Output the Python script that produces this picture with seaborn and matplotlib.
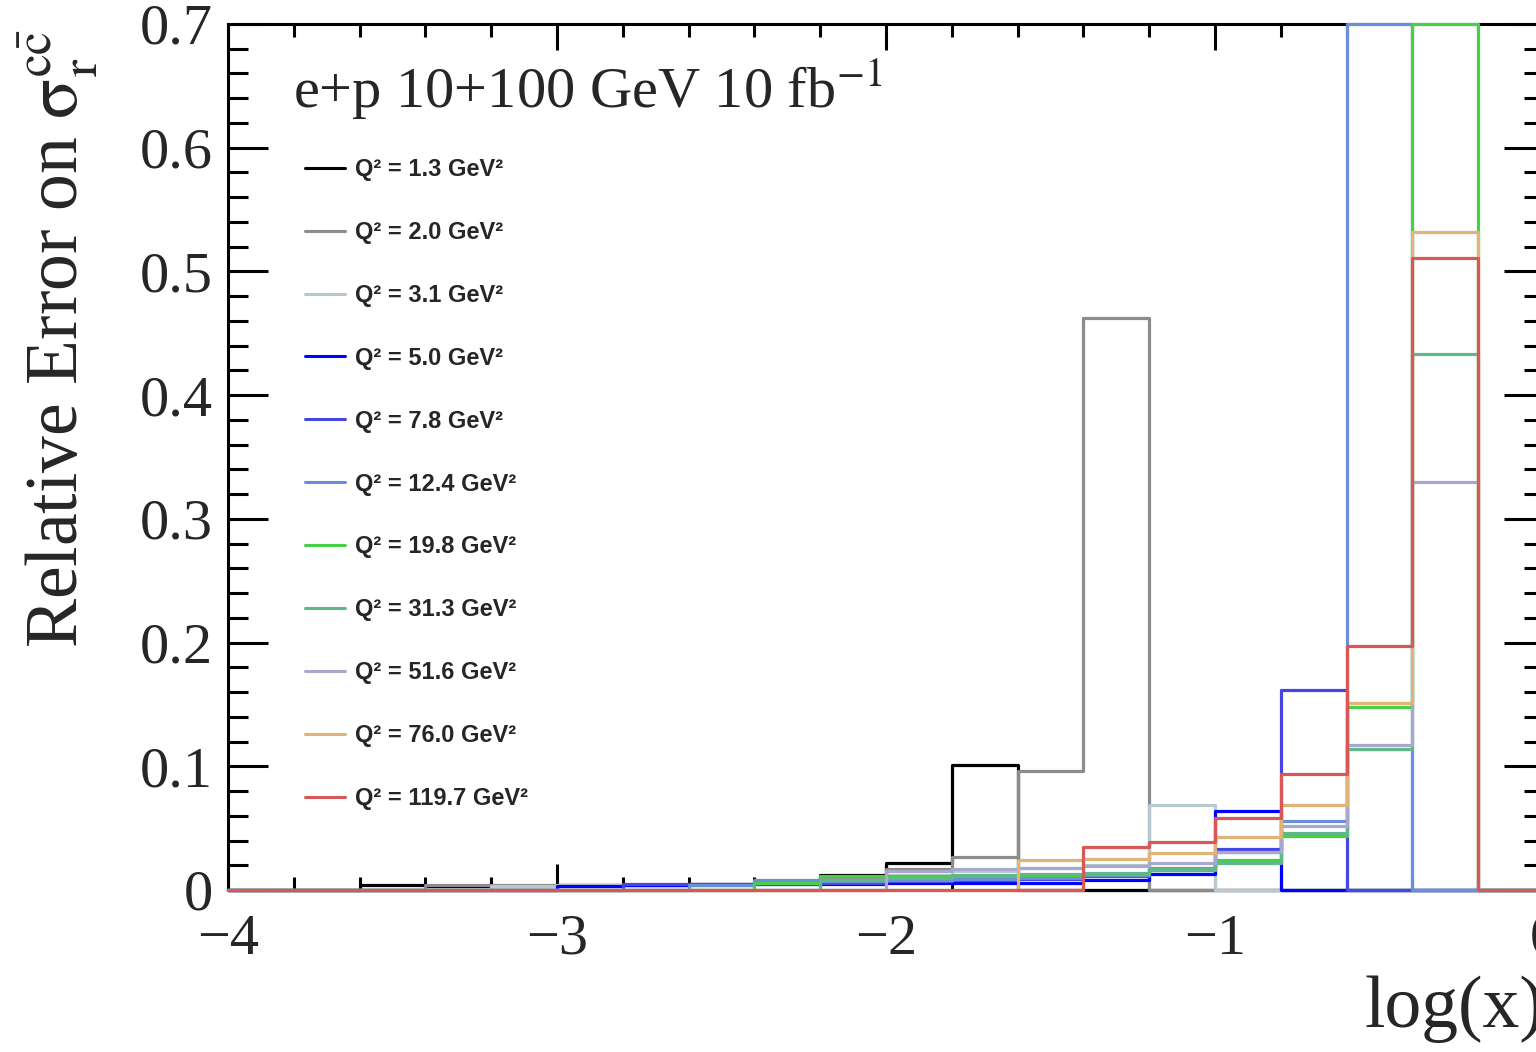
import numpy as np
import pandas as pd
import matplotlib
matplotlib.use("Agg")
import matplotlib.pyplot as plt
from matplotlib.lines import Line2D
from matplotlib.ticker import MultipleLocator
import seaborn as sns

# ---------------- data ----------------
bin_edges = [-4.0, -3.8, -3.6, -3.4, -3.2, -3.0, -2.8, -2.6, -2.4, -2.2, -2.0,
             -1.8, -1.6, -1.4, -1.2, -1.0, -0.8, -0.6, -0.4, -0.2, 0.0]

q2_values = ["1.3", "2.0", "3.1", "5.0", "7.8", "12.4", "19.8", "31.3", "51.6", "76.0", "119.7"]

err_q2_1p3 = [0, 0, 0.004, 0.003, 0.003, 0.004, 0.004, 0.005, 0.006, 0.012, 0.022, 0.101, 0, 0, 0, 0, 0, 0, 0, 0]
err_q2_2p0 = [0, 0, 0, 0.004, 0.004, 0.004, 0.004, 0.005, 0.006, 0.009, 0.017, 0.027, 0.096, 0.462, 0, 0, 0, 0, 0, 0]
err_q2_3p1 = [0, 0, 0, 0, 0.003, 0.004, 0.004, 0.005, 0.006, 0.008, 0.012, 0.015, 0.018, 0.020, 0.069, 0, 0, 0, 0, 0]
err_q2_5p0 = [0, 0, 0, 0, 0, 0.003, 0.004, 0.004, 0.005, 0.005, 0.006, 0.006, 0.006, 0.008, 0.013, 0.064, 0, 0, 0, 0]
err_q2_7p8 = [0, 0, 0, 0, 0, 0, 0.005, 0.005, 0.005, 0.006, 0.007, 0.008, 0.009, 0.011, 0.016, 0.033, 0.162, 0, 0, 0]
err_q2_12p4 = [0, 0, 0, 0, 0, 0, 0, 0.004, 0.008, 0.007, 0.008, 0.009, 0.010, 0.012, 0.018, 0.031, 0.056, 0.70, 0, 0]
err_q2_19p8 = [0, 0, 0, 0, 0, 0, 0, 0, 0.006, 0.011, 0.011, 0.011, 0.012, 0.013, 0.016, 0.024, 0.044, 0.148, 0.70, 0]
err_q2_31p3 = [0, 0, 0, 0, 0, 0, 0, 0, 0, 0.008, 0.010, 0.012, 0.013, 0.014, 0.017, 0.022, 0.046, 0.114, 0.433, 0]
err_q2_51p6 = [0, 0, 0, 0, 0, 0, 0, 0, 0, 0, 0.015, 0.017, 0.018, 0.019, 0.022, 0.031, 0.052, 0.117, 0.330, 0]
err_q2_76p0 = [0, 0, 0, 0, 0, 0, 0, 0, 0, 0, 0, 0, 0.024, 0.025, 0.030, 0.043, 0.069, 0.151, 0.532, 0]
err_q2_119p7 = [0, 0, 0, 0, 0, 0, 0, 0, 0, 0, 0, 0, 0, 0.035, 0.039, 0.058, 0.094, 0.197, 0.511, 0]

series = [err_q2_1p3, err_q2_2p0, err_q2_3p1, err_q2_5p0, err_q2_7p8, err_q2_12p4,
          err_q2_19p8, err_q2_31p3, err_q2_51p6, err_q2_76p0, err_q2_119p7]

colors = ["#000000", "#8c8c8c", "#b8c8d0", "#0000ff", "#4646e2", "#6a8fd8",
          "#45d045", "#5fb88a", "#a8a8cc", "#e0b478", "#d85858"]

xtick_vals = [-4, -3, -2, -1, 0]
xtick_labels = ["\u22124", "\u22123", "\u22122", "\u22121", "0"]
ytick_vals = [0, 0.1, 0.2, 0.3, 0.4, 0.5, 0.6, 0.7]
ytick_labels = ["0", "0.1", "0.2", "0.3", "0.4", "0.5", "0.6", "0.7"]

title_text = "e+p 10+100 GeV 10 fb$^{-1}$"
ylabel_text = r"Relative Error on $\mathrm{\sigma}_{\rm r}^{\rm c\bar{c}}$"
xlabel_text = "log(x)"

# ---------------- style ----------------
sns.set_style("ticks")
plt.rcParams["font.family"] = ["Liberation Serif", "DejaVu Serif"]
plt.rcParams["mathtext.fontset"] = "stix"
plt.rcParams["axes.linewidth"] = 2.2

W, H = 1536, 1052
fig = plt.figure(figsize=(W / 100, H / 100), dpi=100)
ax = fig.add_axes([228 / W, (H - 890) / H, (1544 - 228) / W, (890 - 24) / H])

centers = [(a + b) / 2 for a, b in zip(bin_edges[:-1], bin_edges[1:])]

for vals, col in zip(series, colors):
    sns.histplot(x=centers, weights=vals, bins=bin_edges, element="step", fill=False,
                 color=col, linewidth=2.3, ax=ax, clip_on=False, zorder=3)

ax.set_xlim(-4, 0)
ax.set_ylim(0, 0.7)
ax.set_xlabel("")
ax.set_ylabel("")
ax.set_xticks(xtick_vals, labels=xtick_labels)
ax.set_yticks(ytick_vals, labels=ytick_labels)
ax.xaxis.set_minor_locator(MultipleLocator(0.2))
ax.yaxis.set_minor_locator(MultipleLocator(0.02))
ax.tick_params(which="both", direction="in", top=True, right=True, width=2.2, color="black")
ax.tick_params(axis="x", which="major", length=19, pad=17, labelsize=42)
ax.tick_params(axis="x", which="minor", length=9.5)
ax.tick_params(axis="y", which="major", length=29, pad=11, labelsize=42)
ax.tick_params(axis="y", which="minor", length=14.5)
for s in ax.spines.values():
    s.set_visible(True)
    s.set_color("black")
    s.set_zorder(2.5)

# texts
fig.text(293 / W, (H - 108) / H, title_text, ha="left", va="baseline", fontsize=42)
fig.text(78 / W, (H - 648) / H, ylabel_text, rotation=90, rotation_mode="anchor",
         ha="left", va="baseline", fontsize=53)
fig.text(1544 / W, (H - 1027) / H, xlabel_text, ha="right", va="baseline", fontsize=53)

# legend
handles = [Line2D([0], [0], color=c, lw=2.2) for c in colors]
labels = [f"Q\u00b2 = {q} GeV\u00b2" for q in q2_values]
fig.legend(handles, labels, loc="upper left", bbox_to_anchor=(305 / W, (H - 158) / H),
           bbox_transform=fig.transFigure, frameon=False, borderpad=0, borderaxespad=0,
           handlelength=1.7, handletextpad=0.42, labelspacing=1.69,
           prop={"family": "Liberation Sans", "weight": "bold", "size": 17})

fig.savefig("out.png", dpi=100)
